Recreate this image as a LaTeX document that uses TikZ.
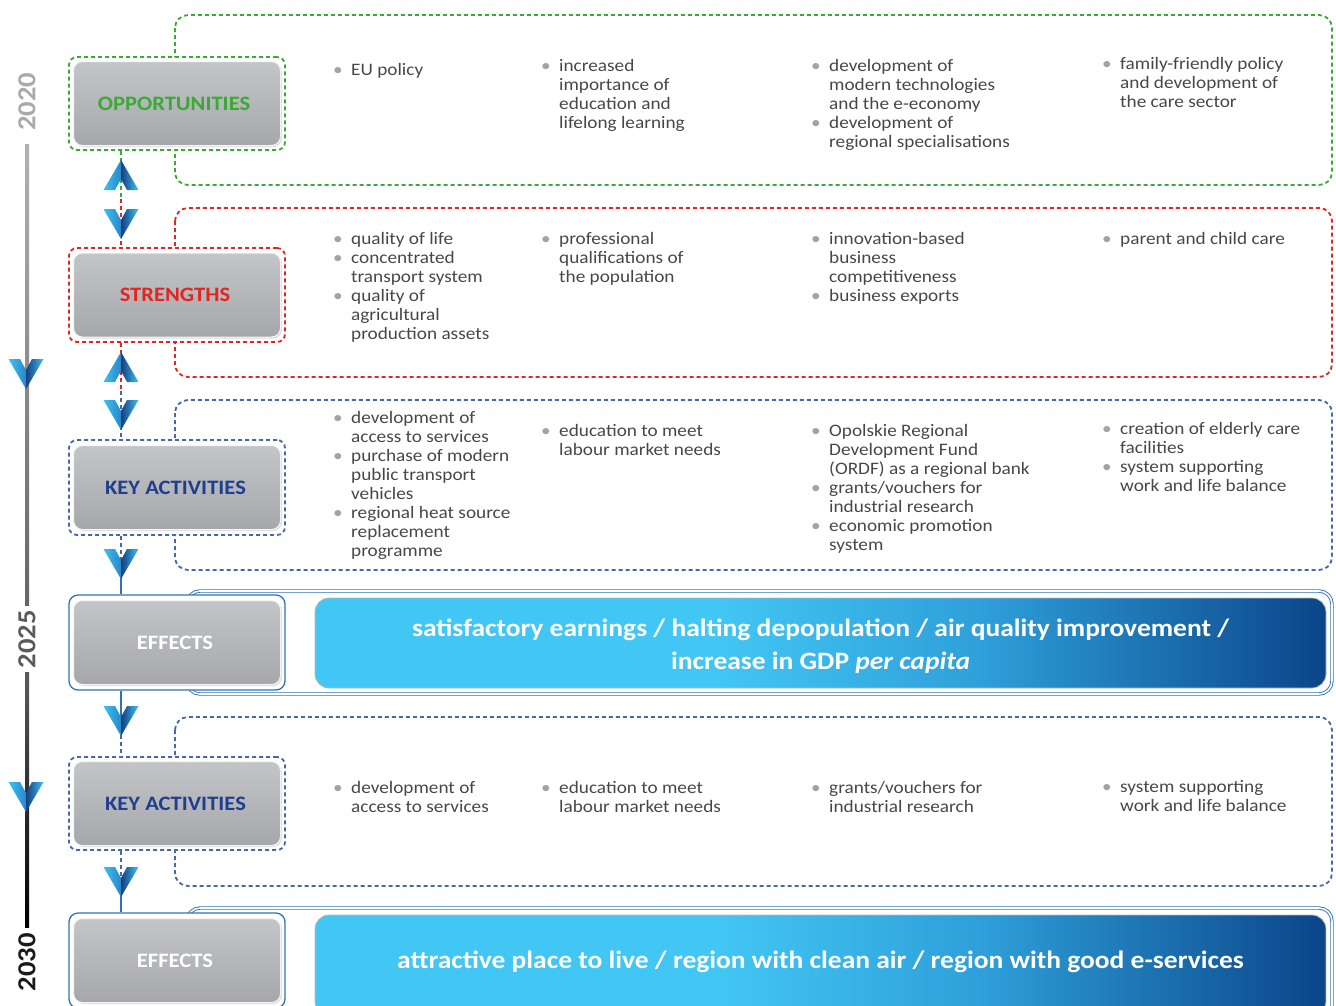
\documentclass[tikz,border=0pt]{standalone}
\usepackage{fontspec}
\setmainfont{Carlito}[FakeStretch=1.1]
\usetikzlibrary{calc,shadows}
\definecolor{oppgreen}{HTML}{3AAA35}
\definecolor{strred}{HTML}{E52421}
\definecolor{katext}{HTML}{1F3F8E}
\definecolor{kadash}{HTML}{4767AC}
\definecolor{effblue}{HTML}{2E72B8}
\definecolor{bodytext}{HTML}{474747}
\definecolor{bulletgray}{HTML}{A3A3A3}
\definecolor{boxtop}{HTML}{C4C5C8}
\definecolor{boxbot}{HTML}{A6A7AB}
\definecolor{chevlight}{HTML}{3CC2F2}
\definecolor{chevmid}{HTML}{2A86C8}
\definecolor{chevdark}{HTML}{163F80}
\definecolor{effL}{HTML}{42C6F3}
\definecolor{effM}{HTML}{2E9FDA}
\definecolor{effR}{HTML}{0B4589}
\definecolor{yr1}{HTML}{A9A9A9}
\definecolor{yr2}{HTML}{5A5A5A}
\definecolor{yr3}{HTML}{1A1A1A}
\pgfdeclarehorizontalshading{effshade}{100bp}{color(0bp)=(effL); color(25bp)=(effL); color(45bp)=(effL); color(58bp)=(effM); color(75bp)=(effR); color(100bp)=(effR)}
\newcommand\bl{\textcolor{bulletgray}{\makebox[18pt][l]{•}}}
\begin{document}
\begin{tikzpicture}[x=1pt,y=-1pt,
  frame/.style={rounded corners=8pt, minimum width=216pt, minimum height=94pt, fill=white, line width=1.8pt, dash pattern=on 4pt off 3pt, inner sep=0pt},
  effframe/.style={rounded corners=9pt, minimum width=216pt, minimum height=95pt, fill=white, draw=effblue, line width=1.3pt, inner sep=0pt},
  panel/.style={rounded corners=13pt, line width=1.8pt, dash pattern=on 4pt off 3pt},
  effpanel/.style={rounded corners=13pt, draw=effblue, line width=0.9pt, double=white, double distance=1.6pt},
  gbox/.style={rounded corners=9pt, minimum width=207pt, minimum height=84pt, inner sep=0pt, top color=boxtop, bottom color=boxbot, draw=white!92!gray, line width=1pt, font=\fontsize{20.5}{24}\selectfont\bfseries, drop shadow={opacity=0.25, shadow xshift=1.5pt, shadow yshift=-1.5pt}},
  txt/.style={anchor=base west, inner sep=0pt, font=\fontsize{17.5}{19}\selectfont, text=bodytext},
  effbox/.style={shade, shading=effshade, rounded corners=14pt, minimum width=1011pt, inner sep=0pt, draw=gray!55, line width=0.8pt, text=white, align=center},
  efftext/.style={font=\fontsize{25}{33}\selectfont\bfseries, text=white, align=center, inner sep=0pt},
  year/.style={rotate=90, inner sep=0pt, font=\fontsize{26}{30}\selectfont\bfseries},
  gdash/.style={draw=oppgreen, line width=1.5pt, dash pattern=on 4pt off 3pt},
  rdash/.style={draw=strred, line width=1.5pt, dash pattern=on 4pt off 3pt},
  bdash/.style={draw=kadash, line width=1.5pt, dash pattern=on 4pt off 3pt},
  bline/.style={draw=effblue, line width=1.5pt},
  chevdown/.pic={
    \shade[left color=chevlight, right color=chevmid] (-17.5,-15) -- (-6,-15) -- (0,-4) -- (0,15) -- cycle;
    \shade[left color=chevdark, right color=chevlight] (0,-4) -- (6,-15) -- (17.5,-15) -- (0,15) -- cycle;
  }
]
\useasboundingbox (0,0) rectangle (1336,1005);
\clip (0,0) rectangle (1336,1005);

% ---------- right panels ----------
\draw[panel, draw=oppgreen] (175,15) rectangle (1332,185);
\draw[panel, draw=strred] (175,208) rectangle (1332,377);
\draw[panel, draw=kadash] (175,400) rectangle (1332,570);
\draw[effpanel] (187,591) rectangle (1332,694);
\draw[panel, draw=kadash] (175,717) rectangle (1332,886);
\draw[effpanel] (187,908) rectangle (1332,1030);

% ---------- left frames ----------
\node[frame, draw=oppgreen, minimum height=93pt] (oppF) at (177,103.5) {};
\node[frame, draw=strred] (strF) at (177,295) {};
\node[frame, draw=kadash, minimum height=95pt] (ka1F) at (177,487.5) {};
\node[effframe] (eff1F) at (177,642.5) {};
\node[frame, draw=kadash, minimum height=93pt] (ka2F) at (177,803.5) {};
\node[effframe] (eff2F) at (177,960.5) {};

% ---------- gray boxes ----------
\node[gbox, text=oppgreen] (opp) at (oppF.center) {\hspace*{-6pt}OPPORTUNITIES};
\node[gbox, text=strred] (str) at (strF.center) {\hspace*{-4pt}STRENGTHS};
\node[gbox, text=katext] (ka1) at (ka1F.center) {\hspace*{-3pt}KEY ACTIVITIES};
\node[gbox, text=white] (eff1) at (eff1F.center) {\hspace*{-4pt}EFFECTS};
\node[gbox, text=katext] (ka2) at (ka2F.center) {\hspace*{-3pt}KEY ACTIVITIES};
\node[gbox, text=white] (eff2) at (eff2F.center) {\hspace*{-4pt}EFFECTS};

% ---------- connectors ----------
\coordinate (m1) at (121,199);
\coordinate (m2) at (121,391);
\coordinate (m3) at (121,564);
\coordinate (m4) at (121,721);
\coordinate (m5) at (121,882);
\draw[gdash] (oppF.south -| m1) -- (m1);
\draw[rdash] (m1) -- (strF.north -| m1);
\draw[rdash] (strF.south -| m2) -- (m2);
\draw[bdash] (m2) -- (ka1F.north -| m2);
\draw[bdash] (ka1F.south -| m3) -- (m3);
\draw[bline] (m3) -- (eff1F.north -| m3);
\draw[bline] (eff1F.south -| m4) -- (m4);
\draw[bdash] (m4) -- (ka2F.north -| m4);
\draw[bdash] (ka2F.south -| m5) -- (m5);
\draw[bline] (m5) -- (eff2F.north -| m5);

% ---------- chevrons ----------
\pic[yscale=-1] at (121,175) {chevdown};
\pic at (121,224) {chevdown};
\pic[yscale=-1] at (121,367) {chevdown};
\pic at (121,415) {chevdown};
\pic at (121,564) {chevdown};
\pic at (121,721) {chevdown};
\pic at (121,882) {chevdown};

% ---------- timeline ----------
\node[year, text=yr1] (y2020) at (27,102) {2020};
\node[year, text=yr2] (y2025) at (27,639) {2025};
\node[year, text=yr3] (y2030) at (27,962) {2030};
\shade[top color=yr1!90!white, bottom color=yr1!60!black] ($(y2020.west)+(-2,13)$) rectangle ($(y2025.east)+(2,-4)$);
\shade[top color=yr2, bottom color=black] ($(y2025.west)+(-2,4)$) rectangle ($(y2030.east)+(2,-5)$);
\pic at (26,374) {chevdown};
\pic at (26,797) {chevdown};

% ---------- effects boxes ----------
\node[effbox, minimum height=90pt] (e1) at (820.5,643) {};
\node[efftext] (e1t) at (820.5,646) {satisfactory earnings / halting depopulation / air quality improvement /\\ increase in GDP \textit{per capita}};
\node[effbox, minimum height=100pt] (e2) at (820.5,965) {};
\node[efftext] (e2t) at (820.5,962) {attractive place to live / region with clean air / region with good e-services};

% ---------- opportunities texts ----------
\node[txt] (o1) at (333,75) {\begin{tabular}[t]{@{}l@{}l@{}}\bl & EU policy\end{tabular}};
\node[txt] (o2) at (541,71) {\begin{tabular}[t]{@{}l@{}l@{}}\bl & increased\\ & importance of\\ & education and\\ & lifelong learning\end{tabular}};
\node[txt] (o3) at (811,71) {\begin{tabular}[t]{@{}l@{}l@{}}\bl & development of\\ & modern technologies\\ & and the e-economy\\ \bl & development of\\ & regional specialisations\end{tabular}};
\node[txt] (o4) at (1102,69) {\begin{tabular}[t]{@{}l@{}l@{}}\bl & family-friendly policy\\ & and development of\\ & the care sector\end{tabular}};

% ---------- strengths texts ----------
\node[txt] (s1) at (333,244) {\begin{tabular}[t]{@{}l@{}l@{}}\bl & quality of life\\ \bl & concentrated\\ & transport system\\ \bl & quality of\\ & agricultural\\ & production assets\end{tabular}};
\node[txt] (s2) at (541,244) {\begin{tabular}[t]{@{}l@{}l@{}}\bl & professional\\ & qualifications of\\ & the population\end{tabular}};
\node[txt] (s3) at (811,244) {\begin{tabular}[t]{@{}l@{}l@{}}\bl & innovation-based\\ & business\\ & competitiveness\\ \bl & business exports\end{tabular}};
\node[txt] (s4) at (1102,244) {\begin{tabular}[t]{@{}l@{}l@{}}\bl & parent and child care\end{tabular}};

% ---------- key activities 1 texts ----------
\node[txt] (k1) at (333,423) {\begin{tabular}[t]{@{}l@{}l@{}}\bl & development of\\ & access to services\\ \bl & purchase of modern\\ & public transport\\ & vehicles\\ \bl & regional heat source\\ & replacement\\ & programme\end{tabular}};
\node[txt] (k2) at (541,436) {\begin{tabular}[t]{@{}l@{}l@{}}\bl & education to meet\\ & labour market needs\end{tabular}};
\node[txt] (k3) at (811,436) {\begin{tabular}[t]{@{}l@{}l@{}}\bl & Opolskie Regional\\ & Development Fund\\ & (ORDF) as a regional bank\\ \bl & grants/vouchers for\\ & industrial research\\ \bl & economic promotion\\ & system\end{tabular}};
\node[txt] (k4) at (1102,434) {\begin{tabular}[t]{@{}l@{}l@{}}\bl & creation of elderly care\\ & facilities\\ \bl & system supporting\\ & work and life balance\end{tabular}};

% ---------- key activities 2 texts ----------
\node[txt] (q1) at (333,793) {\begin{tabular}[t]{@{}l@{}l@{}}\bl & development of\\ & access to services\end{tabular}};
\node[txt] (q2) at (541,793) {\begin{tabular}[t]{@{}l@{}l@{}}\bl & education to meet\\ & labour market needs\end{tabular}};
\node[txt] (q3) at (811,793) {\begin{tabular}[t]{@{}l@{}l@{}}\bl & grants/vouchers for\\ & industrial research\end{tabular}};
\node[txt] (q4) at (1102,792) {\begin{tabular}[t]{@{}l@{}l@{}}\bl & system supporting\\ & work and life balance\end{tabular}};
\end{tikzpicture}
\end{document}
